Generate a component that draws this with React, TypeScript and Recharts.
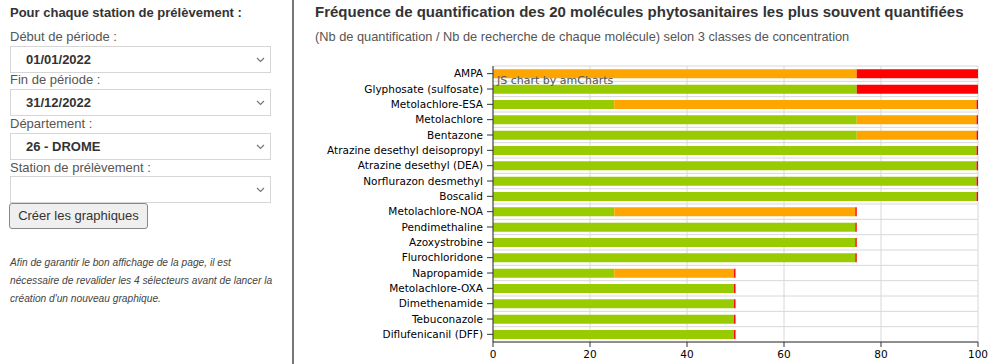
import React from "react";
import { BarChart, Bar, XAxis, YAxis, CartesianGrid } from "recharts";

const categories = [
  "AMPA",
  "Glyphosate (sulfosate)",
  "Metolachlore-ESA",
  "Metolachlore",
  "Bentazone",
  "Atrazine desethyl deisopropyl",
  "Atrazine desethyl (DEA)",
  "Norflurazon desmethyl",
  "Boscalid",
  "Metolachlore-NOA",
  "Pendimethaline",
  "Azoxystrobine",
  "Flurochloridone",
  "Napropamide",
  "Metolachlore-OXA",
  "Dimethenamide",
  "Tebuconazole",
  "Diflufenicanil (DFF)",
];
const greenValues = [0, 75, 25, 75, 75, 99.7, 99.7, 99.7, 99.7, 25, 74.7, 74.7, 74.7, 25, 49.7, 49.7, 49.7, 49.7];
const orangeValues = [75, 0, 74.7, 24.7, 24.7, 0, 0, 0, 0, 49.7, 0, 0, 0, 24.7, 0, 0, 0, 0];
const redValues = [25, 25, 0.3, 0.3, 0.3, 0.3, 0.3, 0.3, 0.3, 0.3, 0.3, 0.3, 0.3, 0.3, 0.3, 0.3, 0.3, 0.3];
const xTicks = [0, 20, 40, 60, 80, 100];

const data = categories.map((name, i) => ({
  name,
  green: greenValues[i],
  orange: orangeValues[i],
  red: redValues[i],
}));

const labelStyle: React.CSSProperties = {
  position: "absolute",
  left: 10,
  fontSize: 13,
  color: "#555",
  fontFamily: "'Liberation Sans', Arial, sans-serif",
  whiteSpace: "nowrap",
};

function Chevron() {
  return (
    <svg width="9" height="6" style={{ position: "absolute", right: 5, top: 10 }}>
      <path d="M1 1 L4.5 4.5 L8 1" fill="none" stroke="#777" strokeWidth="1.2" />
    </svg>
  );
}

function Select({ top, value }: { top: number; value: string }) {
  return (
    <div
      style={{
        position: "absolute",
        left: 10,
        top,
        width: 259,
        height: 25,
        border: "1px solid #d6d6d6",
        background: "#fff",
        boxSizing: "content-box",
      }}
    >
      <div
        style={{
          position: "absolute",
          left: 15,
          top: 5,
          fontSize: 13,
          fontWeight: "bold",
          color: "#333",
          fontFamily: "'Liberation Sans', Arial, sans-serif",
        }}
      >
        {value}
      </div>
      <Chevron />
    </div>
  );
}

export default function App() {
  const n = categories.length;
  const tickFont = { fontSize: 10.5, fill: "#000", fontFamily: "'DejaVu Sans', Verdana, sans-serif" };
  return (
    <div
      style={{
        position: "absolute",
        left: 0,
        top: 0,
        width: 993,
        height: 364,
        background: "#fff",
        overflow: "hidden",
        fontFamily: "'Liberation Sans', Arial, sans-serif",
      }}
    >
      {/* left panel */}
      <div style={{ ...labelStyle, top: 5, fontWeight: "bold", color: "#333" }}>
        Pour chaque station de prélèvement :
      </div>
      <div style={{ ...labelStyle, top: 29 }}>Début de période :</div>
      <Select top={46} value="01/01/2022" />
      <div style={{ ...labelStyle, top: 72 }}>Fin de période :</div>
      <Select top={89} value="31/12/2022" />
      <div style={{ ...labelStyle, top: 116 }}>Département :</div>
      <Select top={133} value="26 - DROME" />
      <div style={{ ...labelStyle, top: 160 }}>Station de prélèvement :</div>
      <Select top={176} value="" />
      <div
        style={{
          position: "absolute",
          left: 9,
          top: 203,
          width: 137,
          height: 24,
          border: "1px solid #888",
          borderRadius: 3,
          background: "#efefef",
          boxSizing: "content-box",
          fontSize: 13,
          color: "#333",
          lineHeight: "24px",
          textAlign: "center",
        }}
      >
        Créer les graphiques
      </div>
      <div
        style={{
          position: "absolute",
          left: 10,
          top: 254,
          fontSize: 10.2,
          fontStyle: "italic",
          color: "#444",
          lineHeight: "18px",
          whiteSpace: "nowrap",
        }}
      >
        Afin de garantir le bon affichage de la page, il est
        <br />
        nécessaire de revalider les 4 sélecteurs avant de lancer la
        <br />
        création d'un nouveau graphique.
      </div>
      <div
        style={{
          position: "absolute",
          left: 292,
          top: 0,
          width: 2,
          height: 364,
          background: "#777",
        }}
      />

      {/* chart titles */}
      <div
        style={{
          position: "absolute",
          left: 315,
          top: 3,
          fontSize: 15,
          fontWeight: "bold",
          color: "#333",
          whiteSpace: "nowrap",
        }}
      >
        Fréquence de quantification des 20 molécules phytosanitaires les plus souvent quantifiées
      </div>
      <div
        style={{
          position: "absolute",
          left: 315,
          top: 29,
          fontSize: 12.8,
          color: "#555",
          whiteSpace: "nowrap",
        }}
      >
        (Nb de quantification / Nb de recherche de chaque molécule) selon 3 classes de concentration
      </div>

      <div style={{ position: "absolute", left: 300, top: 55 }}>
        <BarChart
          width={693}
          height={309}
          data={data}
          layout="vertical"
          margin={{ top: 11, right: 15, bottom: 0, left: 0 }}
          barCategoryGap="22%"
        >
          <CartesianGrid
            stroke="#d8d8d8"
            horizontalCoordinatesGenerator={({ offset }: any) => {
              const arr: number[] = [];
              for (let i = 0; i <= n; i++) arr.push(offset.top + (i * offset.height) / n);
              return arr;
            }}
          />
          <XAxis
            type="number"
            domain={[0, 100]}
            ticks={xTicks}
            tickSize={5}
            tickMargin={4}
            height={22}
            axisLine={{ stroke: "#333" }}
            tickLine={{ stroke: "#333" }}
            tick={tickFont}
          />
          <YAxis
            type="category"
            dataKey="name"
            width={193}
            interval={0}
            tickSize={6}
            tickMargin={4}
            axisLine={{ stroke: "#333" }}
            tickLine={{ stroke: "#333" }}
            tick={tickFont}
          />
          <Bar dataKey="green" stackId="a" fill="#99CC00" isAnimationActive={false} />
          <Bar dataKey="orange" stackId="a" fill="#FFA500" isAnimationActive={false} />
          <Bar dataKey="red" stackId="a" fill="#FF0000" isAnimationActive={false} />
        </BarChart>
      </div>
      <div
        style={{
          position: "absolute",
          left: 497,
          top: 74,
          fontSize: 11,
          color: "#555",
          fontFamily: "'DejaVu Sans', Verdana, sans-serif",
          whiteSpace: "nowrap",
        }}
      >
        JS chart by amCharts
      </div>
    </div>
  );
}
